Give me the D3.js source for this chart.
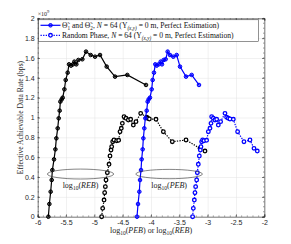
<!DOCTYPE html>
<meta charset="utf-8">
<style>
body { margin: 0; background: #fff; }
svg { font-family: "Liberation Serif", serif; }
.axis .tick text { font-size: 7px; fill: #262626; }
.axis path.domain { stroke: #262626; stroke-width: 0.6px; }
.axis .tick line { stroke: #262626; stroke-width: 0.6px; }
.grid .tick line { stroke: #e3e3e3; stroke-width: 0.5px; }
.grid path.domain { display: none; }
.curve { fill: none; stroke-width: 1.2px; }
</style>
<body>
<div id="chart"></div>
<script src="https://d3js.org/d3.v7.min.js"></script>
<script>

// rates (x 1e9 bps), same simulation plotted against REB and PEB
var rateProposed = [0, 0.128, 0.252, 0.37, 0.47, 0.578, 0.679, 0.79, 0.891, 0.992, 1.069, 1.16, 1.183, 1.2, 1.284, 1.378,
    1.452, 1.536, 1.523, 1.536, 1.563, 1.536, 1.58, 1.587, 1.664, 1.63, 1.613, 1.63, 1.513, 1.412, 1.429, 1.328];
var rebProposed = [-5.812, -5.794, -5.771, -5.753, -5.741, -5.712, -5.688, -5.671, -5.647, -5.629, -5.612, -5.6, -5.576, -5.559, -5.529, -5.506,
    -5.471, -5.447, -5.412, -5.376, -5.353, -5.318, -5.282, -5.212, -5.147, -5.065, -4.988, -4.9, -4.782, -4.635, -4.418, -4.088];
var pebProposed = [-4.247, -4.229, -4.206, -4.194, -4.176, -4.165, -4.147, -4.135, -4.118, -4.1, -4.076, -4.059, -4.041, -4.018, -3.988, -3.971,
    -3.947, -3.924, -3.9, -3.865, -3.829, -3.806, -3.776, -3.741, -3.706, -3.665, -3.606, -3.547, -3.488, -3.382, -3.282, -3.153];

var rateRandom = [0, 0.084, 0.168, 0.242, 0.303, 0.37, 0.444, 0.528, 0.612, 0.672, 0.706, 0.756, 0.773, 0.766, 0.77, 0.857, 0.891,
    0.941, 1.008, 0.992, 0.975, 0.982, 0.924, 0.958, 1.042, 1.002, 0.992, 0.985, 0.982, 0.857, 0.756, 0.773, 0.689, 0.662];
var rebRandom = [-4.871, -4.853, -4.829, -4.818, -4.806, -4.794, -4.771, -4.741, -4.724, -4.706, -4.694, -4.676, -4.653, -4.606, -4.571, -4.547, -4.524,
    -4.506, -4.476, -4.441, -4.4, -4.359, -4.312, -4.265, -4.182, -4.076, -4.059, -4.029, -3.912, -3.782, -3.624, -3.382, -3.135, -3.047];
var pebRandom = [-3.265, -3.253, -3.235, -3.224, -3.212, -3.194, -3.182, -3.165, -3.147, -3.129, -3.118, -3.106, -3.088, -3.065, -3.018, -2.988, -2.959,
    -2.941, -2.929, -2.9, -2.871, -2.841, -2.812, -2.771, -2.694, -2.665, -2.635, -2.606, -2.547, -2.471, -2.359, -2.253, -2.182, -2.124];

var xTicks = [-6, -5.5, -5, -4.5, -4, -3.5, -3, -2.5, -2];
var yTicks = [0, 0.2, 0.4, 0.6, 0.8, 1, 1.2, 1.4, 1.6, 1.8, 2];

var width = 291, height = 244;
var m = {left: 37.7, right: 264.3, top: 18.3, bottom: 216.7};

var svg = d3.select("#chart").append("svg")
    .attr("width", width)
    .attr("height", height);

var x = d3.scaleLinear().domain([-6, -2]).range([m.left, m.right]);
var y = d3.scaleLinear().domain([0, 2]).range([m.bottom, m.top]);

svg.append("rect")
    .attr("x", m.left).attr("y", m.top)
    .attr("width", m.right - m.left).attr("height", m.bottom - m.top)
    .attr("fill", "#fff");

// grid
svg.append("g").attr("class", "grid")
    .attr("transform", "translate(0," + m.bottom + ")")
    .call(d3.axisBottom(x).tickValues(xTicks).tickSize(-(m.bottom - m.top)).tickFormat(""));
svg.append("g").attr("class", "grid")
    .attr("transform", "translate(" + m.left + ",0)")
    .call(d3.axisLeft(y).tickValues(yTicks).tickSize(-(m.right - m.left)).tickFormat(""));

// minor ticks
var xMinor = d3.range(-6, -1.99, 0.1);
var yMinor = d3.range(0, 2.001, 0.05);
var minor = svg.append("g").attr("stroke", "#262626").attr("stroke-width", 0.5);
xMinor.forEach(function(v) {
    minor.append("line").attr("x1", x(v)).attr("x2", x(v)).attr("y1", m.bottom).attr("y2", m.bottom - 1.2);
    minor.append("line").attr("x1", x(v)).attr("x2", x(v)).attr("y1", m.top).attr("y2", m.top + 1.2);
});
yMinor.forEach(function(v) {
    minor.append("line").attr("y1", y(v)).attr("y2", y(v)).attr("x1", m.left).attr("x2", m.left + 1.2);
    minor.append("line").attr("y1", y(v)).attr("y2", y(v)).attr("x1", m.right).attr("x2", m.right - 1.2);
});

// axes
svg.append("g").attr("class", "axis")
    .attr("transform", "translate(0," + m.bottom + ")")
    .call(d3.axisBottom(x).tickValues(xTicks).tickSize(-2.3).tickPadding(3).tickFormat(function(d) { return String(d); }));
svg.append("g").attr("class", "axis")
    .attr("transform", "translate(0," + m.top + ")")
    .call(d3.axisTop(x).tickValues(xTicks).tickSize(-2.3).tickFormat(""));
svg.append("g").attr("class", "axis")
    .attr("transform", "translate(" + m.left + ",0)")
    .call(d3.axisLeft(y).tickValues(yTicks).tickSize(-2.3).tickPadding(3).tickFormat(function(d) { return String(d); }));
svg.append("g").attr("class", "axis")
    .attr("transform", "translate(" + m.right + ",0)")
    .call(d3.axisRight(y).tickValues(yTicks).tickSize(-2.3).tickFormat(""));

// curves
var series = [
    {xs: rebProposed, ys: rateProposed, color: "#000", dash: null, filled: true},
    {xs: rebRandom, ys: rateRandom, color: "#000", dash: "1.3,1.3", filled: false},
    {xs: pebProposed, ys: rateProposed, color: "#0000ff", dash: null, filled: true},
    {xs: pebRandom, ys: rateRandom, color: "#0000ff", dash: "1.3,1.3", filled: false}
];

var line = d3.line().x(function(d) { return x(d[0]); }).y(function(d) { return y(d[1]); });

series.forEach(function(s) {
    var pts = s.xs.map(function(v, i) { return [v, s.ys[i]]; });
    svg.append("path")
        .attr("class", "curve")
        .attr("d", line(pts))
        .attr("stroke", s.color)
        .attr("stroke-dasharray", s.dash);
    svg.append("g").selectAll("circle")
        .data(pts)
        .join("circle")
        .attr("cx", function(d) { return x(d[0]); })
        .attr("cy", function(d) { return y(d[1]); })
        .attr("r", 1.8)
        .attr("fill", s.filled ? s.color : "#fff")
        .attr("fill-opacity", s.filled ? 0.6 : 1)
        .attr("stroke", s.color)
        .attr("stroke-width", s.filled ? 1 : 1.3);
});

// ellipse annotations
var notes = [
    {cx: -5.244, cy: 0.43, rx: 0.586, ry: 0.05, label: "REB"},
    {cx: -3.68, cy: 0.43, rx: 0.588, ry: 0.047, label: "PEB"}
];
notes.forEach(function(n) {
    svg.append("ellipse")
        .attr("cx", x(n.cx)).attr("cy", y(n.cy))
        .attr("rx", x(n.cx + n.rx) - x(n.cx)).attr("ry", y(0) - y(n.ry))
        .attr("fill", "none").attr("stroke", "#333").attr("stroke-width", 0.6);
    var t = svg.append("text")
        .attr("x", x(n.cx)).attr("y", y(0.29))
        .attr("text-anchor", "middle")
        .attr("font-size", 8).attr("fill", "#222");
    t.append("tspan").text("log");
    t.append("tspan").attr("font-size", 5.5).attr("dy", 2).text("10");
    t.append("tspan").attr("dy", -2).text("(");
    t.append("tspan").attr("font-style", "italic").text(n.label);
    t.append("tspan").text(")");
});

// exponent
var ex = svg.append("text").attr("x", m.left).attr("y", m.top - 2.5)
    .attr("font-size", 6).attr("fill", "#262626");
ex.append("tspan").text("\u00d710");
ex.append("tspan").attr("font-size", 4.5).attr("dy", -2.5).text("9");

// axis labels
var xl = svg.append("text")
    .attr("x", (m.left + m.right) / 2).attr("y", 233)
    .attr("text-anchor", "middle").attr("font-size", 8).attr("fill", "#262626");
[["log"], ["10", "sub"], ["("], ["PEB", "it"], [") or log"], ["10", "sub"], ["("], ["REB", "it"], [")"]].forEach(function(p) {
    var ts = xl.append("tspan").text(p[0]);
    if (p[1] === "sub") ts.attr("font-size", 5.5).attr("dy", 2);
    else if (p[1] === "it") ts.attr("font-style", "italic");
    if (p[0] === "(") ts.attr("dy", -2);
});

svg.append("text")
    .attr("transform", "translate(23," + ((m.top + m.bottom) / 2) + ") rotate(-90)")
    .attr("text-anchor", "middle").attr("font-size", 7.6).attr("fill", "#262626")
    .text("Effective Achievable Data Rate (bps)");

// legend
var lg = svg.append("g");
lg.append("rect")
    .attr("x", 38.7).attr("y", 19.8).attr("width", 219.6).attr("height", 21.8)
    .attr("fill", "#fff").attr("stroke", "#262626").attr("stroke-width", 0.5);

var legendRows = [
    {dash: null, filled: true, y: 25.3},
    {dash: "1.3,1.3", filled: false, y: 35.3}
];
legendRows.forEach(function(r, i) {
    lg.append("line").attr("x1", 40.5).attr("x2", 60.5).attr("y1", r.y).attr("y2", r.y)
        .attr("stroke", "#0000ff").attr("stroke-width", 1.2).attr("stroke-dasharray", r.dash);
    lg.append("circle").attr("cx", 50.5).attr("cy", r.y).attr("r", 1.8)
        .attr("fill", r.filled ? "#0000ff" : "#fff").attr("fill-opacity", r.filled ? 0.6 : 1)
        .attr("stroke", "#0000ff").attr("stroke-width", r.filled ? 1 : 1.3);
    var t = lg.append("text").attr("x", 62).attr("y", r.y + 2.6)
        .attr("font-size", 7.6).attr("fill", "#111");
    if (i === 0) {
        t.append("tspan").text("\u0398\u0303");
        t.append("tspan").attr("font-size", 5.2).attr("dy", 1.8).text("1");
        t.append("tspan").attr("dy", -1.8).text(" and \u0398\u0303");
        t.append("tspan").attr("font-size", 5.2).attr("dy", 1.8).text("2");
        t.append("tspan").attr("dy", -1.8).text(", ");
    } else {
        t.append("tspan").text("Random Phase, ");
    }
    t.append("tspan").attr("font-style", "italic").text("N");
    t.append("tspan").text(" = 64 (\u03a5");
    t.append("tspan").attr("font-size", 5.2).attr("font-style", "italic").attr("dy", 1.8).text("(x,y)");
    t.append("tspan").attr("dy", -1.8).text(" = 0 m, Perfect Estimation)");
});

</script>
</body>
